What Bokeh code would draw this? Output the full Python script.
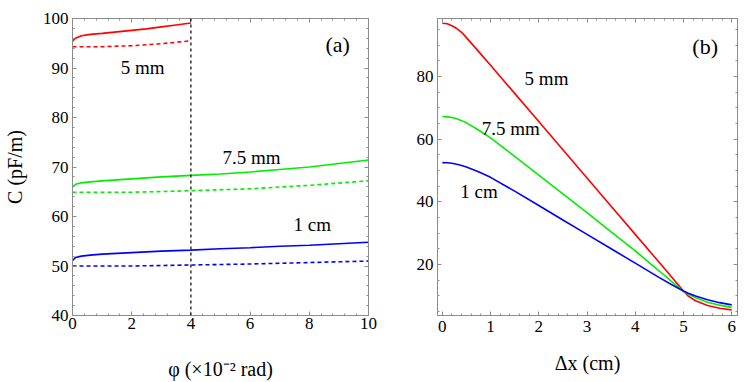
from bokeh.plotting import figure
from bokeh.layouts import row
from bokeh.models import FixedTicker, LinearAxis, Range1d, Label, Span, CustomLabelingPolicy
from bokeh.embed import file_html
from bokeh.resources import INLINE
import numpy as np

FONT = "'Liberation Serif', 'Times New Roman', serif"
GRAY = "#8c8c8c"

# ---------------- panel (a) data ----------------
phi_red = [0, 0.1, 0.3, 0.6, 1, 1.5, 2, 2.5, 3, 3.5, 4]
c_red_solid = [95.4, 96.0, 96.5, 96.8, 97.0, 97.3, 97.6, 97.9, 98.3, 98.7, 99.1]
phi_red_d = [0, 1, 2, 3, 4]
c_red_dash = [94.3, 94.3, 94.5, 94.9, 95.5]

phi_full = [0, 0.1, 0.3, 0.6, 1, 2, 3, 4, 5, 6, 7, 8, 9, 10]
c_green_solid = [65.9, 66.5, 66.8, 67.0, 67.2, 67.6, 68.0, 68.3, 68.6, 69.0, 69.5, 70.0, 70.7, 71.4]
c_blue_solid = [51.1, 51.7, 52.0, 52.2, 52.4, 52.7, 53.0, 53.2, 53.5, 53.7, 54.0, 54.2, 54.5, 54.8]
phi_d = [0, 2, 4, 6, 8, 10]
c_green_dash = [64.9, 64.9, 65.2, 65.6, 66.3, 67.2]
c_blue_dash = [50.0, 50.0, 50.2, 50.4, 50.7, 51.0]
phi_cut = 4

a_xticks = [0, 2, 4, 6, 8, 10]
a_yticks = [40, 50, 60, 70, 80, 90, 100]

# ---------------- panel (b) data ----------------
dx = [0, 0.1, 0.2, 0.3, 0.4, 0.5, 0.75, 1, 1.5, 2, 2.5, 3, 3.5, 4, 4.5, 4.75, 5, 5.1, 5.25, 5.5, 5.75, 6]
c5 = [97.0, 96.8, 96.2, 95.3, 94.1, 92.4, 88.0, 83.6, 74.6, 65.6, 56.6, 47.6, 38.6, 29.6, 20.6, 16.1, 11.5, 9.9, 8.4, 6.9, 6.0, 5.5]
c75 = [67.2, 67.1, 66.9, 66.5, 65.9, 65.2, 62.9, 60.4, 54.5, 48.5, 42.5, 36.5, 30.4, 24.3, 17.9, 14.6, 11.4, 10.5, 9.4, 7.9, 7.0, 6.3]
c10 = [52.5, 52.45, 52.3, 52.0, 51.6, 51.1, 49.6, 47.8, 43.4, 38.8, 34.2, 29.6, 25.0, 20.4, 15.8, 13.6, 11.5, 10.8, 9.9, 8.7, 7.8, 7.1]

b_xticks = [0, 1, 2, 3, 4, 5, 6]
b_yticks = [20, 40, 60, 80]

HIDE = CustomLabelingPolicy(code="""
const all = [...indices]
for (const i of all) indices.unset(i)
return indices
""")


def style(p, xt, xminor, yt, yminor):
    p.xgrid.visible = False
    p.ygrid.visible = False
    p.outline_line_color = GRAY
    p.background_fill_color = "white"
    p.border_fill_color = "white"
    bottom = p.below[0]
    left = p.left[0]
    top = LinearAxis()
    right = LinearAxis()
    p.add_layout(top, "above")
    p.add_layout(right, "right")
    for ax in [bottom, top]:
        ax.ticker = FixedTicker(ticks=xt, minor_ticks=xminor)
    for ax in [left, right]:
        ax.ticker = FixedTicker(ticks=yt, minor_ticks=yminor)
    for ax in [bottom, top, left, right]:
        ax.axis_line_color = GRAY
        ax.major_tick_line_color = GRAY
        ax.minor_tick_line_color = GRAY
        ax.major_tick_in = 4
        ax.major_tick_out = 0
        ax.minor_tick_in = 2
        ax.minor_tick_out = 0
        ax.major_label_text_font = FONT
        ax.major_label_text_font_size = "17px"
        ax.major_label_text_color = "black"
        ax.axis_label_text_font = FONT
        ax.axis_label_text_font_size = "20px"
        ax.axis_label_text_font_style = "normal"
        ax.axis_label_text_color = "black"
    for ax in [top, right]:
        ax.major_label_text_font_size = "1px"
        ax.major_label_standoff = 0
        ax.major_label_policy = HIDE
    left.major_label_standoff = 4
    return bottom, left


# ---------------- figure (a) ----------------
pa = figure(width=380, height=382, output_backend="svg", toolbar_location=None,
            x_range=Range1d(0, 10), y_range=Range1d(40, 100),
            min_border_left=69, min_border_right=12, min_border_top=18, min_border_bottom=65)
a_bottom, a_left = style(pa, a_xticks, list(np.round(np.arange(0, 10.01, 0.4), 2)),
                         a_yticks, list(range(40, 101, 2)))
a_bottom.major_label_standoff = 2
a_bottom.axis_label = "φ (×10⁻² rad)"
a_bottom.axis_label_standoff = 26
a_left.axis_label = "C (pF/m)"
a_left.axis_label_standoff = 14

lw = 1.6
pa.line(phi_red, c_red_solid, line_color="#ff0000", line_width=lw)
pa.line(phi_red_d, c_red_dash, line_color="#ff0000", line_width=lw, line_dash="4 3")
pa.line(phi_full, c_green_solid, line_color="#00ee00", line_width=lw)
pa.line(phi_d, c_green_dash, line_color="#00ee00", line_width=lw, line_dash="4 3")
pa.line(phi_full, c_blue_solid, line_color="#0000ff", line_width=lw)
pa.line(phi_d, c_blue_dash, line_color="#0000ff", line_width=lw, line_dash="4 3")
pa.add_layout(Span(location=phi_cut, dimension="height", line_color="black",
                   line_width=1.2, line_dash="3 3"))

for x, y, t, s in [(2.37, 90.1, "5 mm", "19px"), (6.05, 72.0, "7.5 mm", "19px"),
                   (8.1, 58.4, "1 cm", "19px"), (8.96, 94.7, "(a)", "22px")]:
    pa.add_layout(Label(x=x, y=y, text=t, text_align="center", text_baseline="middle",
                        text_font=FONT, text_font_size=s, text_color="black"))

# ---------------- figure (b) ----------------
pb = figure(width=367, height=382, output_backend="svg", toolbar_location=None,
            x_range=Range1d(-0.1, 6.12), y_range=Range1d(3.7, 98.5),
            min_border_left=57, min_border_right=10, min_border_top=18, min_border_bottom=65)
b_bottom, b_left = style(pb, b_xticks, list(np.round(np.arange(0, 6.01, 0.2), 2)),
                         b_yticks, list(range(5, 100, 5)))
b_bottom.major_label_standoff = 5
b_bottom.axis_label = "Δx (cm)"
b_bottom.axis_label_standoff = 17

pb.line(dx, c5, line_color="#ff0000", line_width=lw)
pb.line(dx, c75, line_color="#00ee00", line_width=lw)
pb.line(dx, c10, line_color="#0000ff", line_width=lw)

for x, y, t, s in [(2.16, 79.4, "5 mm", "19px"), (1.42, 63.3, "7.5 mm", "19px"),
                   (0.76, 43.3, "1 cm", "19px"), (5.45, 89.6, "(b)", "22px")]:
    pb.add_layout(Label(x=x, y=y, text=t, text_align="center", text_baseline="middle",
                        text_font=FONT, text_font_size=s, text_color="black"))

layout = row(pa, pb)
open("out.html", "w").write(file_html(layout, INLINE))
